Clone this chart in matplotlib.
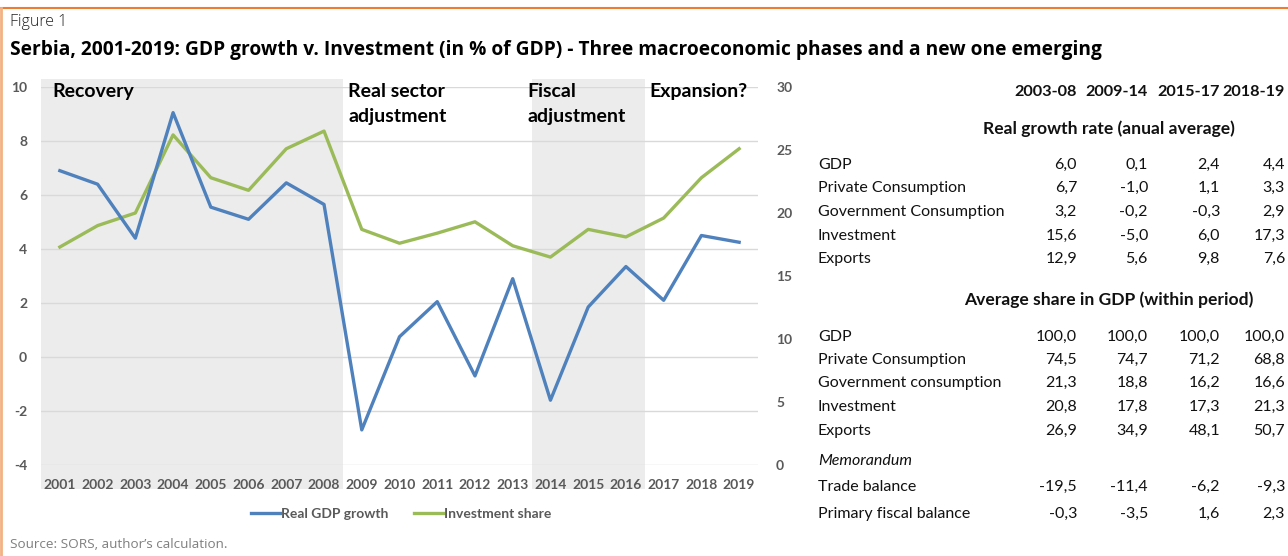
import matplotlib.pyplot as plt
from matplotlib.lines import Line2D

plt.rcParams["axes.unicode_minus"] = False

years = list(range(2001, 2020))
gdp_growth = [6.9, 6.4, 4.4, 9.05, 5.55, 5.1, 6.45, 5.65, -2.7, 0.75,
              2.05, -0.7, 2.9, -1.6, 1.85, 3.35, 2.1, 4.5, 4.25]
invest_share = [17.3, 19.0, 20.0, 26.2, 22.8, 21.8, 25.1, 26.5, 18.7, 17.6,
                18.4, 19.3, 17.4, 16.5, 18.7, 18.1, 19.6, 22.8, 25.1]

phases = ["Recovery", "Real sector\nadjustment", "Fiscal\nadjustment", "Expansion?"]
shaded = [(2001, 2008), (2014, 2016)]

periods = ["2003-08", "2009-14", "2015-17", "2018-19"]
growth_rows = ["GDP", "Private Consumption", "Government Consumption", "Investment", "Exports"]
growth_vals = [["6,0", "0,1", "2,4", "4,4"],
               ["6,7", "-1,0", "1,1", "3,3"],
               ["3,2", "-0,2", "-0,3", "2,9"],
               ["15,6", "-5,0", "6,0", "17,3"],
               ["12,9", "5,6", "9,8", "7,6"]]
share_rows = ["GDP", "Private Consumption", "Government consumption", "Investment", "Exports"]
share_vals = [["100,0", "100,0", "100,0", "100,0"],
              ["74,5", "74,7", "71,2", "68,8"],
              ["21,3", "18,8", "16,2", "16,6"],
              ["20,8", "17,8", "17,3", "21,3"],
              ["26,9", "34,9", "48,1", "50,7"]]
memo_rows = ["Trade balance", "Primary fiscal balance"]
memo_vals = [["-19,5", "-11,4", "-6,2", "-9,3"],
             ["-0,3", "-3,5", "1,6", "2,3"]]

blue = "#4f81bd"
green = "#9bbb59"
gray = "#595959"
W, H = 1288, 556

def fx(px):
    return px / W

def fy(py):
    return 1 - py / H

fig = plt.figure(figsize=(12.88, 5.56), dpi=100)
fig.patch.set_facecolor("white")

# orange frame (top and left)
fig.add_artist(Line2D([0, 1], [fy(8), fy(8)], color="#ed7d31", lw=1.5))
fig.add_artist(Line2D([fx(1), fx(1)], [fy(8), 0], color="#f4b183", lw=2))

fig.text(fx(10), fy(22), "Figure 1", fontsize=11.5, family="Open Sans",
         fontweight="light", va="center", color="#222222")
fig.text(fx(10), fy(50), "Serbia, 2001-2019: GDP growth v. Investment (in % of GDP) - "
         "Three macroeconomic phases and a new one emerging",
         fontsize=13.8, family="Open Sans", fontweight="bold", va="center")

ax = fig.add_axes([fx(41), fy(465), fx(758 - 41), (465 - 87) / H])
ax2 = ax.twinx()

for a, b in shaded:
    ax.axvspan(a - 0.5, b + 0.5, ymin=-0.063, ymax=1.02, color="#ececec",
               lw=0, clip_on=False, zorder=0)

ax.set_ylim(-4, 10)
ax.set_yticks(range(-4, 11, 2))
ax.set_xlim(2000.5, 2019.5)
ax.set_xticks(years)
ax.grid(axis="y", color="#d9d9d9", lw=1)
ax.set_axisbelow(True)
ax2.set_ylim(0, 30)
ax2.set_yticks(range(0, 31, 5))

for a in (ax, ax2):
    for s in a.spines.values():
        s.set_visible(False)
    a.tick_params(length=0, labelsize=10, labelcolor=gray)
    a.patch.set_visible(False)
ax.tick_params(axis="y", pad=10)
ax.tick_params(axis="x", pad=10)
ax2.tick_params(axis="y", pad=13)
for lab in ax.get_xticklabels() + ax.get_yticklabels() + ax2.get_yticklabels():
    lab.set_family("Lato")
    lab.set_fontweight("bold")

ax2.plot(years, invest_share, color=green, lw=2.4, zorder=3)
ax2.plot(years, gdp_growth, color=blue, lw=2.4, zorder=3,
         transform=ax.transData)

label_x = [2000.79, 2008.64, 2013.39, 2016.61]
for name, x in zip(phases, label_x):
    ax.text(x, 10.15, name, fontsize=14, family="Lato",
            fontweight="bold", va="top", linespacing=1.6)

handles = [Line2D([], [], color=blue, lw=2.4), Line2D([], [], color=green, lw=2.4)]
leg = fig.legend(handles, ["Real GDP growth", "Investment share"], loc="center",
                 bbox_to_anchor=(fx(401), fy(514)), ncol=2, frameon=False,
                 prop={"family": "Lato", "size": 10, "weight": "bold"},
                 handlelength=2.1, handletextpad=0.1, columnspacing=1.8)
for t in leg.get_texts():
    t.set_color(gray)

fig.text(fx(10), fy(545), "Source: SORS, author\u2019s calculation.", fontsize=9.7,
         family="Open Sans", color="#7f7f7f", va="center")

# table on the right
col_right = [1077, 1148, 1220, 1285]
lab_x = 818
tprop = dict(family="Lato", va="center", color="#111111")
for x, p in zip(col_right, periods):
    fig.text(fx(x), fy(92), p, ha="right", fontweight="bold", fontsize=11.7, **tprop)
fig.text(fx(1109), fy(129), "Real growth rate (anual average)", ha="center",
         fontweight="bold", fontsize=12.6, **tprop)
fig.text(fx(1109), fy(300), "Average share in GDP (within period)", ha="center",
         fontweight="bold", fontsize=12.6, **tprop)

def draw_rows(names, vals, ys):
    for name, row, y in zip(names, vals, ys):
        fig.text(fx(lab_x), fy(y), name, ha="left", fontsize=11.5, **tprop)
        for x, v in zip(col_right, row):
            fig.text(fx(x), fy(y), v, ha="right", fontsize=11.5, **tprop)

draw_rows(growth_rows, growth_vals, [165, 188, 212, 236, 259])
draw_rows(share_rows, share_vals, [337, 360, 383, 407, 431])
fig.text(fx(lab_x), fy(461), "Memorandum", ha="left", style="italic", fontsize=11.5, **tprop)
draw_rows(memo_rows, memo_vals, [487, 514])

fig.savefig("out.png", dpi=100)
